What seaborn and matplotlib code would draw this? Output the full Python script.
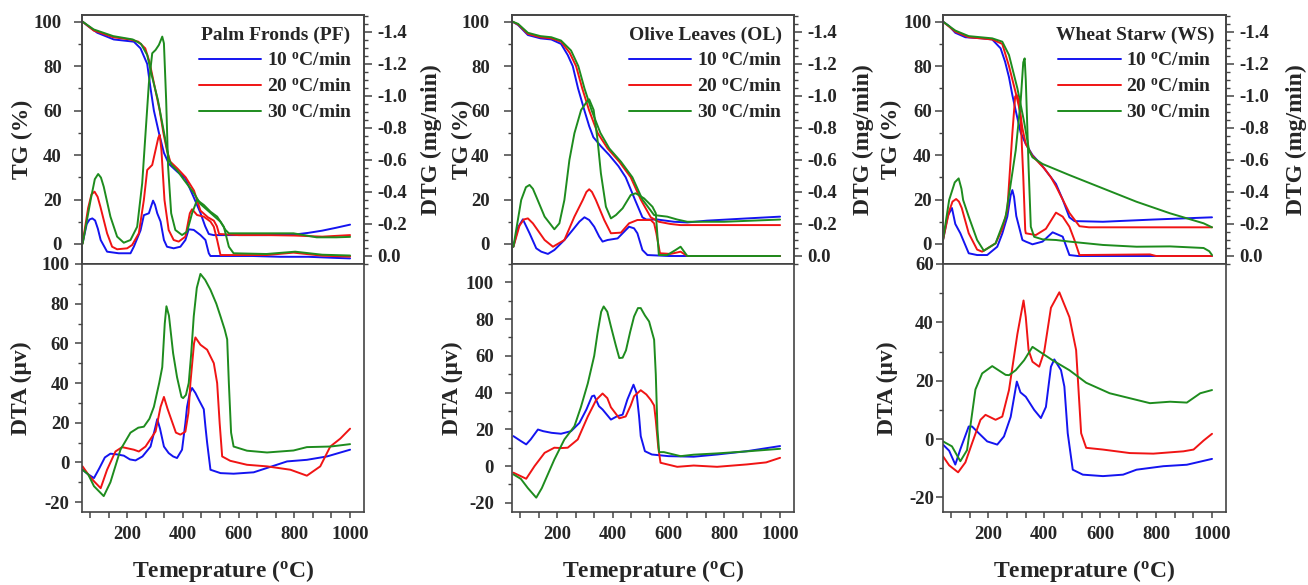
import matplotlib
matplotlib.use("Agg")
import matplotlib.pyplot as plt
import seaborn as sns
import pandas as pd
from matplotlib.ticker import MultipleLocator, FixedLocator, FormatStrFormatter, NullLocator

# ---------------- data ----------------
RATES = ["10 $^{o}$C/min", "20 $^{o}$C/min", "30 $^{o}$C/min"]
COLORS = ["#1414f0", "#f01414", "#1e8c1e"]
XTICKS = [200, 400, 600, 800, 1000]

# Palm Fronds
PF_TG10_T = [40, 60, 93, 152, 224, 248, 272, 284, 296, 314, 332, 350, 380, 409, 439, 463, 480, 493, 510, 600, 700, 797, 850, 900, 950, 1000]
PF_TG10 = [100, 98, 95, 92, 91, 88, 81, 70, 60, 50, 41, 36, 32.5, 29.5, 21, 14, 8, 4.5, 4, 4, 4, 4.2, 5, 6, 7.3, 8.7]
PF_TG20_T = [40, 80, 150, 210, 240, 265, 280, 300, 317, 330, 343, 355, 380, 410, 440, 463, 490, 511, 522, 530, 600, 700, 800, 900, 1000]
PF_TG20 = [100, 96, 93, 92, 91, 88, 82, 70, 60, 50, 42, 37, 34, 30, 24, 15, 12, 10.5, 8, 4.5, 4, 4, 3.8, 3.3, 4]
PF_TG30_T = [40, 80, 150, 220, 250, 272, 290, 310, 325, 340, 350, 360, 380, 403, 439, 463, 499, 535, 553, 565, 700, 797, 880, 950, 1000]
PF_TG30 = [100, 96.5, 93.5, 92, 90, 85, 75, 65, 55, 45, 38, 35.5, 33, 29, 23, 18, 14, 10, 6.3, 4.8, 4.8, 4.8, 3, 3, 3.2]

PF_DTG10_T = [40, 55, 65, 75, 85, 95, 105, 128, 170, 212, 224, 248, 260, 278, 286, 293, 300, 308, 320, 332, 343, 367, 391, 409, 421, 439, 463, 481, 493, 499, 550, 650, 750, 850, 950, 1000]
PF_DTG10 = [-0.08, -0.2, -0.228, -0.235, -0.222, -0.17, -0.1, -0.027, -0.017, -0.017, -0.058, -0.16, -0.255, -0.267, -0.31, -0.346, -0.32, -0.267, -0.215, -0.1, -0.058, -0.048, -0.058, -0.1, -0.167, -0.163, -0.131, -0.1, -0.017, 0.0, 0.0, 0.0, 0.005, 0.005, 0.012, 0.015]
PF_DTG20_T = [40, 60, 72, 83, 94, 104, 128, 146, 164, 200, 218, 242, 260, 272, 290, 302, 312, 317, 323, 334, 349, 367, 385, 409, 425, 433, 451, 475, 499, 511, 523, 535, 700, 797, 900, 1000]
PF_DTG20 = [-0.079, -0.3, -0.385, -0.402, -0.37, -0.308, -0.142, -0.058, -0.042, -0.048, -0.069, -0.142, -0.35, -0.5375, -0.569, -0.6625, -0.74, -0.756, -0.6625, -0.35, -0.1625, -0.1, -0.09, -0.121, -0.267, -0.292, -0.256, -0.246, -0.215, -0.183, -0.1, -0.006, -0.006, -0.021, -0.002, 0.004]
PF_DTG30_T = [40, 69, 84, 96, 106, 116, 140, 164, 188, 212, 236, 254, 266, 278, 290, 302, 314, 326, 332, 340, 347, 358, 373, 397, 415, 433, 451, 475, 499, 523, 547, 565, 582, 700, 803, 900, 1000]
PF_DTG30 = [-0.075, -0.35, -0.48, -0.5125, -0.49, -0.433, -0.246, -0.121, -0.083, -0.1, -0.183, -0.454, -0.767, -1.079, -1.267, -1.2875, -1.319, -1.371, -1.329, -0.975, -0.558, -0.267, -0.1625, -0.131, -0.152, -0.267, -0.35, -0.319, -0.277, -0.246, -0.183, -0.058, -0.017, -0.0125, -0.027, -0.008, -0.003]

PF_DTA10_T = [40, 60, 81, 100, 120, 140, 165, 188, 210, 230, 255, 284, 300, 308, 318, 332, 349, 365, 379, 397, 409, 415, 425, 433, 445, 457, 475, 481, 487, 499, 535, 582, 654, 702, 774, 845, 917, 1000]
PF_DTA10 = [-3.7, -6, -7.9, -3, 2.5, 4.4, 4, 3.4, 1.5, 1, 3, 8, 17, 21.8, 17, 8, 4.7, 3, 2.2, 6.4, 19.8, 28, 35, 37.5, 35, 31.6, 26.8, 18, 10, -3.7, -5.4, -5.7, -5, -2.8, 0.5, 1.3, 3, 6.4]
PF_DTA20_T = [40, 60, 81, 105, 128, 158, 182, 224, 242, 266, 302, 320, 332, 345, 355, 375, 391, 409, 420, 427, 440, 445, 463, 487, 511, 523, 532, 541, 570, 630, 702, 786, 845, 893, 929, 965, 1000]
PF_DTA20 = [-2, -6, -9.5, -13, -3.7, 5.5, 7.7, 6.4, 5.5, 8, 15.6, 28, 33, 27, 23, 15, 14, 15.5, 25, 40, 60, 63, 59.3, 56.8, 50, 40, 19.8, 3, 0.8, -1.2, -2, -3.7, -6.7, -2, 8, 12, 17]
PF_DTA30_T = [40, 60, 81, 116, 140, 176, 212, 240, 260, 280, 296, 315, 326, 335, 341, 350, 365, 379, 395, 401, 411, 421, 430, 439, 450, 463, 480, 499, 520, 535, 550, 559, 565, 573, 582, 630, 702, 797, 845, 930, 1000]
PF_DTA30 = [-3.7, -6, -12, -17, -10, 6.4, 15, 17.5, 18, 22, 28, 40, 48, 70, 78.7, 74, 55, 43, 33, 32.4, 34, 40, 55, 73.6, 88, 95, 92, 87, 80, 73.6, 67, 62, 40, 15, 8, 5.9, 5, 6, 7.7, 8, 9.2]

# Olive Leaves
OL_TG10_T = [40, 60, 95, 140, 179, 214, 238, 256, 275, 298, 315, 330, 357, 387, 420, 446, 479, 506, 520, 560, 619, 667, 738, 881, 1000]
OL_TG10 = [100, 98.5, 94, 92.5, 92, 90, 85, 80, 70, 60, 53, 48, 44, 40, 35, 30, 20, 12, 11, 11, 10, 9.7, 10.5, 11.5, 12.3]
OL_TG20_T = [40, 60, 95, 140, 179, 214, 245, 268, 290, 315, 345, 381, 423, 464, 500, 536, 565, 607, 643, 800, 1000]
OL_TG20 = [100, 98.7, 94.5, 93, 92.5, 91, 86, 80, 70, 60, 50, 43, 37, 30, 20, 12, 10, 9, 8.5, 8.5, 8.5]
OL_TG30_T = [40, 60, 95, 140, 179, 214, 250, 276, 298, 324, 355, 387, 429, 470, 506, 548, 595, 631, 667, 800, 1000]
OL_TG30 = [100, 99, 95, 93.5, 93, 91.5, 87, 80, 70, 60, 50, 43, 37, 30, 20, 13, 12.3, 11, 10, 10, 11]

OL_DTG10_T = [43, 60, 77, 101, 125, 143, 167, 190, 226, 256, 280, 298, 315, 333, 351, 363, 381, 417, 435, 458, 476, 488, 506, 524, 600, 800, 1000]
OL_DTG10 = [-0.058, -0.18, -0.229, -0.142, -0.048, -0.027, -0.013, -0.0375, -0.1, -0.163, -0.215, -0.242, -0.225, -0.183, -0.121, -0.09, -0.1, -0.11, -0.142, -0.183, -0.173, -0.142, -0.0375, -0.006, 0.0, 0.0, 0.0]
OL_DTG20_T = [43, 65, 80, 95, 113, 155, 185, 226, 262, 292, 305, 315, 325, 339, 369, 393, 429, 458, 488, 536, 548, 556, 569, 607, 643, 667, 800, 1000]
OL_DTG20 = [-0.058, -0.19, -0.228, -0.235, -0.204, -0.1, -0.058, -0.1, -0.246, -0.35, -0.4, -0.417, -0.4, -0.35, -0.225, -0.142, -0.146, -0.204, -0.225, -0.225, -0.204, -0.142, -0.017, -0.013, -0.027, 0.0, 0.0, 0.0]
OL_DTG30_T = [43, 71, 88, 101, 113, 125, 155, 190, 208, 226, 244, 262, 286, 307, 315, 331, 345, 357, 375, 393, 411, 435, 464, 482, 512, 542, 554, 565, 595, 625, 643, 667, 800, 1000]
OL_DTG30 = [-0.058, -0.35, -0.43, -0.444, -0.42, -0.371, -0.246, -0.167, -0.204, -0.35, -0.6, -0.767, -0.9125, -0.965, -0.979, -0.9125, -0.725, -0.517, -0.308, -0.235, -0.256, -0.298, -0.381, -0.392, -0.36, -0.308, -0.267, -0.006, -0.006, -0.0375, -0.058, 0.0, 0.0, 0.0]

OL_DTA10_T = [43, 70, 89, 105, 131, 150, 180, 214, 250, 280, 305, 325, 333, 350, 363, 393, 415, 435, 452, 474, 485, 494, 500, 515, 540, 600, 690, 774, 881, 1000]
OL_DTA10 = [16.3, 13.6, 11.8, 14.5, 19.9, 19, 18.1, 17.6, 19, 23.5, 30.8, 38, 38.4, 32.6, 30.8, 25.3, 27.1, 28, 36.2, 44.3, 39.8, 27.1, 16.3, 8.1, 6.3, 5.4, 5.1, 6.3, 8.1, 10.9]
OL_DTA20_T = [43, 89, 119, 155, 190, 214, 238, 274, 310, 340, 363, 380, 393, 423, 446, 464, 476, 500, 520, 536, 548, 554, 563, 571, 631, 690, 774, 881, 950, 1000]
OL_DTA20 = [-3.6, -6.9, 0, 7.2, 10, 9.8, 10, 14.5, 27, 36, 39.5, 37, 32, 26, 27, 33, 38, 41.3, 39, 36, 33, 25, 10, 1.8, -0.4, 0.3, -0.4, 0.9, 2, 4.5]
OL_DTA30_T = [43, 70, 95, 125, 145, 190, 226, 262, 285, 310, 333, 345, 358, 367, 380, 393, 410, 423, 435, 447, 462, 476, 490, 500, 515, 530, 548, 554, 560, 566, 583, 643, 690, 774, 881, 1000]
OL_DTA30 = [-4.5, -7, -12, -17.2, -12, 3.6, 14.5, 21.7, 32, 45, 60, 72.4, 84, 86.9, 84, 76, 66, 58.8, 59, 63, 73, 81.4, 86, 86, 82, 78.7, 68.8, 50, 20, 7.6, 7.6, 5.4, 6.2, 6.9, 8, 9.4]

# Wheat Straw
WS_TG10_T = [38, 60, 82, 118, 178, 214, 244, 260, 274, 286, 298, 316, 334, 358, 394, 424, 442, 466, 490, 508, 610, 790, 1000]
WS_TG10 = [100, 98, 95, 93, 92.5, 92, 88, 82, 75, 67, 60, 50, 45, 40, 35, 30, 27, 20, 12, 10.3, 10, 11, 12]
WS_TG20_T = [38, 82, 130, 214, 250, 274, 298, 313, 322, 334, 356, 370, 400, 424, 442, 466, 490, 502, 526, 560, 1000]
WS_TG20 = [100, 95.5, 93, 92, 90, 80, 68, 60, 52, 45, 40, 38, 34, 30, 26, 20, 14, 12, 8, 7.5, 7.5]
WS_TG30_T = [38, 82, 130, 214, 250, 274, 304, 328, 346, 358, 394, 490, 610, 730, 850, 970, 1000]
WS_TG30 = [100, 96, 93.5, 92.5, 91, 85, 70, 55, 42, 39, 36, 31, 25, 19, 13.8, 9.3, 7.5]

WS_DTG10_T = [38, 55, 70, 82, 100, 130, 160, 196, 232, 250, 268, 280, 286, 292, 300, 322, 334, 358, 394, 430, 466, 490, 520, 1000]
WS_DTG10 = [-0.1, -0.25, -0.3, -0.2, -0.142, -0.017, -0.006, -0.006, -0.058, -0.14, -0.246, -0.38, -0.412, -0.37, -0.25, -0.1, -0.09, -0.073, -0.09, -0.148, -0.121, -0.006, 0.0, 0.0]
WS_DTG20_T = [38, 60, 72, 85, 95, 105, 130, 160, 178, 226, 250, 268, 286, 296, 302, 308, 316, 325, 332, 334, 370, 406, 442, 466, 490, 508, 526, 778, 800, 1000]
WS_DTG20 = [-0.1, -0.28, -0.34, -0.356, -0.34, -0.3, -0.142, -0.04, -0.027, -0.079, -0.17, -0.2875, -0.767, -0.996, -1.006, -0.975, -0.85, -0.496, -0.163, -0.142, -0.131, -0.17, -0.271, -0.246, -0.183, -0.1, -0.006, -0.01, 0.0, 0.0]
WS_DTG30_T = [38, 60, 80, 94, 104, 110, 130, 160, 184, 226, 262, 280, 298, 316, 325, 330, 334, 344, 352, 364, 394, 442, 490, 610, 730, 850, 970, 990, 1000]
WS_DTG30 = [-0.1, -0.35, -0.46, -0.485, -0.42, -0.35, -0.246, -0.1, -0.033, -0.079, -0.246, -0.45, -0.66, -0.975, -1.21, -1.235, -1.1, -0.558, -0.183, -0.12, -0.104, -0.1, -0.09, -0.069, -0.058, -0.06, -0.05, -0.03, -0.006]

WS_DTA10_T = [38, 60, 82, 100, 130, 142, 166, 196, 232, 256, 280, 302, 315, 334, 364, 388, 406, 424, 436, 460, 472, 484, 502, 538, 610, 682, 730, 826, 910, 1000]
WS_DTA10 = [-1.9, -4, -8.75, -3.5, 4.3, 4.3, 2, -0.8, -1.9, 0.9, 7.6, 19.7, 16, 14.5, 10, 7.2, 11, 24.8, 27.3, 23.6, 18, 2, -10.5, -12.2, -12.7, -12.2, -10.5, -9.3, -8.8, -6.8]
WS_DTA20_T = [38, 60, 92, 118, 142, 172, 190, 226, 250, 274, 304, 326, 334, 344, 358, 382, 400, 424, 454, 490, 514, 532, 550, 610, 706, 790, 898, 934, 970, 1000]
WS_DTA20 = [-5.9, -9, -11.4, -8, -1.4, 6.6, 8.3, 6.6, 7.7, 16.8, 36, 47.5, 41.8, 30.5, 26.5, 24.8, 30, 45, 50.3, 41.8, 30.5, 2, -3, -3.6, -4.8, -5, -4.2, -3.6, -0.5, 1.8]
WS_DTA30_T = [38, 70, 100, 124, 154, 178, 214, 262, 274, 298, 328, 358, 394, 430, 490, 550, 634, 706, 778, 850, 910, 958, 1000]
WS_DTA30 = [-0.8, -2.5, -7.6, -3.8, 17, 22.5, 25, 22, 21.9, 23.6, 27, 31.6, 29.3, 27, 23.6, 19.3, 15.7, 14, 12.3, 12.8, 12.5, 15.7, 16.8]

TITLES = ["Palm Fronds (PF)", "Olive Leaves (OL)", "Wheat Starw (WS)"]

# ---------------- style ----------------
sns.set_style("ticks")
plt.rcParams["font.family"] = ["Liberation Serif", "DejaVu Serif"]
plt.rcParams["font.weight"] = "bold"
plt.rcParams["axes.unicode_minus"] = False
plt.rcParams["mathtext.fontset"] = "custom"
plt.rcParams["mathtext.rm"] = "Liberation Serif:bold"
plt.rcParams["mathtext.it"] = "Liberation Serif:bold"
plt.rcParams["mathtext.bf"] = "Liberation Serif:bold"
plt.rcParams["mathtext.default"] = "rm"

W, H = 1308, 585
fig = plt.figure(figsize=(W / 100, H / 100), dpi=100)
fig.patch.set_facecolor("white")

SPINE = "#444444"
TICK_FS = 13.5
LAB_FS = 17


def frame(Ts, Vs):
    parts = [pd.DataFrame({"T": T, "V": V, "rate": r}) for r, T, V in zip(RATES, Ts, Vs)]
    return pd.concat(parts, ignore_index=True)


def draw(ax, Ts, Vs):
    sns.lineplot(data=frame(Ts, Vs), x="T", y="V", hue="rate", hue_order=RATES,
                 palette=COLORS, estimator=None, sort=False, linewidth=1.4,
                 legend=False, ax=ax)


def style_spines(ax):
    for s in ax.spines.values():
        s.set_visible(True)
        s.set_color(SPINE)
        s.set_linewidth(1.2)


def panel(x0, w, tg, dtg, dta, title, dta_lim, lab, pads):
    ax = fig.add_axes([x0 / W, 1 - 264 / H, w / W, 249 / H])
    ax2 = ax.twinx()
    axb = fig.add_axes([x0 / W, 1 - 512 / H, w / W, 248 / H])

    draw(ax, *tg)
    draw(ax2, *dtg)
    draw(axb, *dta)

    for a in (ax, ax2, axb):
        style_spines(a)
        a.set_xlim(38, 1050)

    # TG axis
    ax.set_ylim(-9, 103)
    ax.yaxis.set_major_locator(MultipleLocator(20))
    ax.yaxis.set_minor_locator(MultipleLocator(10))
    ax.tick_params(axis="y", which="major", direction="out", length=5.5, width=1.1,
                   color=SPINE, labelsize=TICK_FS, pad=pads[0], left=True, right=False)
    ax.tick_params(axis="y", which="minor", direction="out", length=3.2, width=1.0,
                   color=SPINE, left=True, right=False)
    ax.xaxis.set_major_locator(MultipleLocator(200 / 6))
    ax.xaxis.set_minor_locator(NullLocator())
    ax.tick_params(axis="x", which="major", direction="out", length=3.5, width=1.0,
                   color=SPINE, bottom=True, top=False, labelbottom=False)
    ax.set_xlabel("")
    ax.set_ylabel("TG (%)", fontsize=LAB_FS, fontweight="bold")
    ax.yaxis.set_label_coords(lab[0], 0.5)

    # DTG axis
    ax2.set_ylim(0.05, -1.506)
    ax2.yaxis.set_major_locator(MultipleLocator(0.2))
    ax2.yaxis.set_minor_locator(MultipleLocator(0.05))
    ax2.yaxis.set_major_formatter(FormatStrFormatter("%.1f"))
    ax2.tick_params(axis="y", which="major", direction="out", length=5.5, width=1.1,
                    color=SPINE, labelsize=TICK_FS, pad=4, right=True, left=False)
    ax2.tick_params(axis="y", which="minor", direction="out", length=3, width=1.0,
                    color=SPINE, right=True, left=False)
    ax2.set_ylabel("DTG (mg/min)", fontsize=LAB_FS, fontweight="bold")
    ax2.yaxis.set_label_coords(lab[1], 0.5)

    handles = ax.get_lines()[:3]
    ax2.legend(handles, RATES, title=title, loc="upper right", frameon=False,
               fontsize=14, title_fontproperties={"weight": "bold", "size": 14},
               handlelength=3.2, handletextpad=0.3, labelspacing=0.42,
               borderaxespad=0.3, borderpad=0.3)

    # DTA axis
    axb.set_ylim(*dta_lim)
    axb.yaxis.set_major_locator(MultipleLocator(20))
    axb.yaxis.set_minor_locator(MultipleLocator(10))
    axb.tick_params(axis="y", which="major", direction="out", length=5, width=1.1,
                    color=SPINE, labelsize=TICK_FS, pad=pads[1], left=True, right=False)
    axb.tick_params(axis="y", which="minor", direction="out", length=3, width=1.0,
                    color=SPINE, left=True, right=False)
    axb.xaxis.set_major_locator(FixedLocator(XTICKS))
    axb.xaxis.set_minor_locator(MultipleLocator(200 / 3))
    axb.tick_params(axis="x", which="both", direction="out", length=4, width=1.1,
                    color=SPINE, labelsize=TICK_FS, pad=6, bottom=True, top=False)
    axb.set_ylabel("DTA (\u03bcv)", fontsize=LAB_FS, fontweight="bold")
    axb.yaxis.set_label_coords(lab[2], 0.5)
    axb.set_xlabel("Temeprature ($^{o}$C)", fontsize=LAB_FS, fontweight="bold", labelpad=11)


panel(82, 282,
      ([PF_TG10_T, PF_TG20_T, PF_TG30_T], [PF_TG10, PF_TG20, PF_TG30]),
      ([PF_DTG10_T, PF_DTG20_T, PF_DTG30_T], [PF_DTG10, PF_DTG20, PF_DTG30]),
      ([PF_DTA10_T, PF_DTA20_T, PF_DTA30_T], [PF_DTA10, PF_DTA20, PF_DTA30]),
      TITLES[0], (-25, 100), (-0.174, 1.202, -0.177), (9.0, 4.0))
panel(512, 282,
      ([OL_TG10_T, OL_TG20_T, OL_TG30_T], [OL_TG10, OL_TG20, OL_TG30]),
      ([OL_DTG10_T, OL_DTG20_T, OL_DTG30_T], [OL_DTG10, OL_DTG20, OL_DTG30]),
      ([OL_DTA10_T, OL_DTA20_T, OL_DTA30_T], [OL_DTA10, OL_DTA20, OL_DTA30]),
      TITLES[1], (-25, 110), (-0.138, 1.209, -0.174), (10.5, 8.0))
panel(943, 283,
      ([WS_TG10_T, WS_TG20_T, WS_TG30_T], [WS_TG10, WS_TG20, WS_TG30]),
      ([WS_DTG10_T, WS_DTG20_T, WS_DTG30_T], [WS_DTG10, WS_DTG20, WS_DTG30]),
      ([WS_DTA10_T, WS_DTA20_T, WS_DTA30_T], [WS_DTA10, WS_DTA20, WS_DTA30]),
      TITLES[2], (-25, 60), (-0.145, 1.211, -0.159), (2.5, 1.5))

fig.savefig("out.png", dpi=100, facecolor="white")
